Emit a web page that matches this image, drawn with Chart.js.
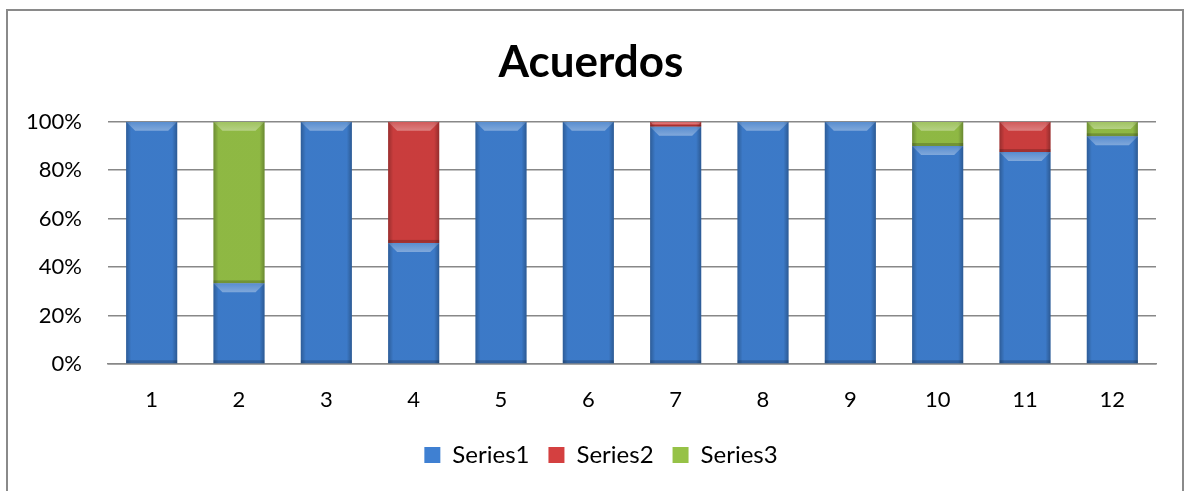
<!DOCTYPE html>
<html>
<head>
<meta charset="utf-8">
<script src="https://cdn.jsdelivr.net/npm/chart.js@4.4.1/dist/chart.umd.min.js"></script>
<style>
    html, body { margin: 0; padding: 0; background: #fff; }
    #wrap { position: relative; width: 1185px; height: 491px; }
</style>
</head>
<body>
<div id="wrap"><canvas id="chart"></canvas></div>
<script>
// values (percent of each column)
const categories = ['1', '2', '3', '4', '5', '6', '7', '8', '9', '10', '11', '12'];
const series1 = [100, 33.3, 100, 50, 100, 100, 98, 100, 100, 90, 87.5, 94];
const series2 = [0, 0, 0, 50, 0, 0, 2, 0, 0, 0, 12.5, 0];
const series3 = [0, 66.7, 0, 0, 0, 0, 0, 0, 0, 10, 0, 6];
const yTicks = [0, 20, 40, 60, 80, 100];

const COLORS = ['#3f80d2', '#d44040', '#96c247'];
const FONT = 'Lato';

// outer frame like the spreadsheet chart border
const framePlugin = {
    id: 'frame',
    afterDraw(chart) {
        const c = chart.ctx;
        c.save();
        c.strokeStyle = '#8a8a8a';
        c.lineWidth = 2;
        c.strokeRect(7, 10, 1176, 490);
        c.restore();
    }
};

// excel puts the legend a little right of the plot centre
const legendShift = {
    id: 'legendShift',
    afterLayout(chart) {
        const lg = chart.legend;
        if (!lg) return;
        lg.left += 13;
        lg.right += 13;
        const t = chart.titleBlock;
        if (t) { t.left += 3; t.right += 3; }
    }
};

// light bevel on top, darker sides - a rough take on the 2007 look
const bevelPlugin = {
    id: 'bevel',
    afterDatasetsDraw(chart) {
        const c = chart.ctx;
        chart.data.datasets.forEach((ds, di) => {
            const meta = chart.getDatasetMeta(di);
            meta.data.forEach(bar => {
                const h = bar.base - bar.y;
                if (h < 1) return;
                const left = bar.x - bar.width / 2;
                const right = bar.x + bar.width / 2;
                c.save();
                // sides
                const g = c.createLinearGradient(left, 0, right, 0);
                g.addColorStop(0, 'rgba(0,0,0,0.28)');
                g.addColorStop(0.1, 'rgba(0,0,0,0.05)');
                g.addColorStop(0.9, 'rgba(0,0,0,0.05)');
                g.addColorStop(1, 'rgba(0,0,0,0.30)');
                c.fillStyle = g;
                c.fillRect(left, bar.y, bar.width, h);
                // top bevel
                const b = Math.min(9, h / 2);
                const tg = c.createLinearGradient(0, bar.y, 0, bar.y + b);
                tg.addColorStop(0, 'rgba(255,255,255,0.15)');
                tg.addColorStop(1, 'rgba(255,255,255,0.35)');
                c.fillStyle = tg;
                c.beginPath();
                c.moveTo(left, bar.y);
                c.lineTo(right, bar.y);
                c.lineTo(right - b, bar.y + b);
                c.lineTo(left + b, bar.y + b);
                c.closePath();
                c.fill();
                // bottom shade
                const s = Math.min(3, h / 3);
                c.fillStyle = 'rgba(0,0,0,0.2)';
                c.fillRect(left, bar.base - s, bar.width, s);
                c.restore();
            });
        });
    }
};

const datasets = [series1, series2, series3].map((data, i) => ({
    label: 'Series' + (i + 1),
    data,
    backgroundColor: COLORS[i],
    borderWidth: 0,
    barPercentage: 0.585,
    categoryPercentage: 1
}));

new Chart(document.getElementById('chart'), {
    type: 'bar',
    data: { labels: categories, datasets },
    plugins: [bevelPlugin, framePlugin, legendShift],
    options: {
        responsive: true,
        maintainAspectRatio: false,
        animation: false,
        layout: { padding: { left: 20, right: 29, top: 0, bottom: 14 } },
        plugins: {
            title: {
                display: true,
                text: 'Acuerdos',
                color: '#000',
                font: { family: FONT, size: 44, weight: 'bold', lineHeight: 1.2 },
                padding: { top: 36, bottom: 33 }
            },
            legend: {
                position: 'bottom',
                labels: {
                    color: '#000',
                    font: { family: FONT, size: 24 },
                    boxWidth: 16,
                    boxHeight: 16,
                    padding: 19
                }
            },
            tooltip: { enabled: false }
        },
        scales: {
            x: {
                stacked: true,
                afterFit: s => { s.height = 60; },
                grid: { display: false, drawTicks: false },
                border: { display: true, color: '#888', width: 1.5 },
                ticks: { color: '#000', font: { family: FONT, size: 22 }, padding: 23 }
            },
            y: {
                stacked: true,
                min: 0,
                max: 100,
                afterFit: s => { s.width = 88; },
                afterBuildTicks: s => { s.ticks = yTicks.map(v => ({ value: v })); },
                grid: { color: '#888', lineWidth: 1.5, drawTicks: false },
                border: { display: false },
                ticks: {
                    color: '#000',
                    font: { family: FONT, size: 22 },
                    padding: 26,
                    callback: v => v + '%'
                }
            }
        }
    }
});
</script>
</body>
</html>
